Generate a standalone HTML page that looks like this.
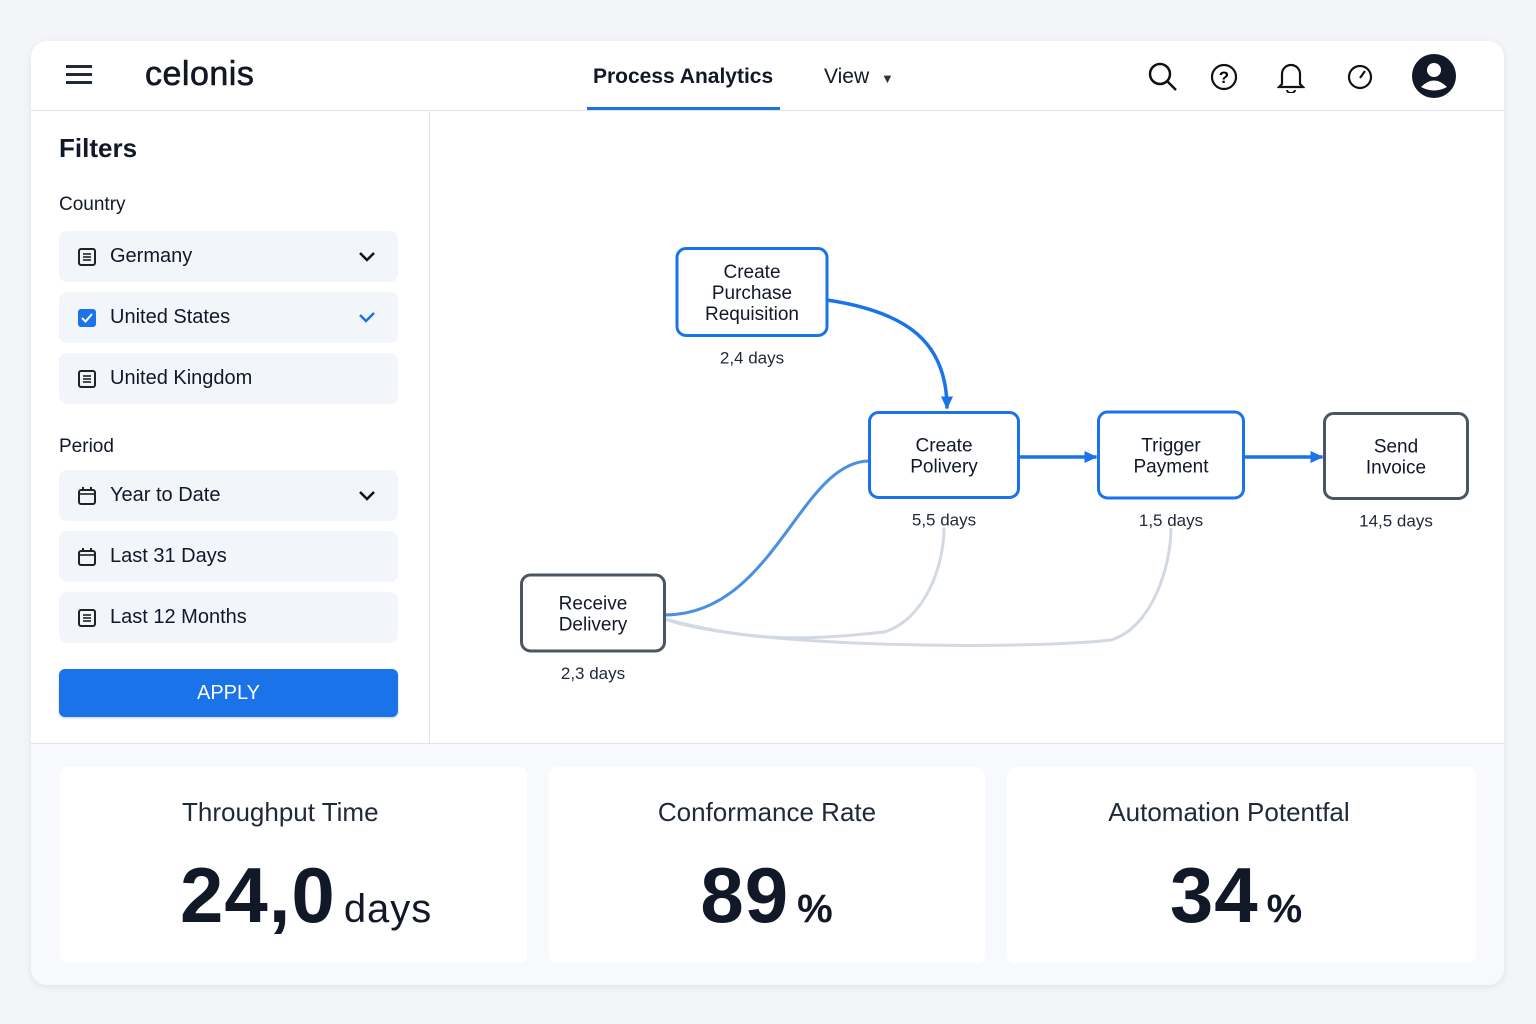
<!DOCTYPE html>
<html><head><meta charset="utf-8"><style>
*{box-sizing:border-box;margin:0;padding:0}
body{width:1536px;height:1024px;background:#f3f5f9;font-family:"Liberation Sans",sans-serif;color:#111827;position:relative;overflow:hidden}
.card{position:absolute;left:31px;top:41px;width:1473px;height:944px;background:#fff;border-radius:16px;box-shadow:0 2px 8px rgba(20,30,60,.08);overflow:hidden}
.abs{position:absolute}
.sel{position:absolute;left:28px;width:339px;height:51px;background:#f2f5f9;border-radius:8px;font-size:20px;display:flex;align-items:center;padding-left:51px}
.sel svg.ic{position:absolute;left:18px;top:16px}
.chev{position:absolute;right:22px;top:18px}
.kpi{position:absolute;top:726px;height:196px;background:#fff;border-radius:8px;text-align:center}
.kpi .t{font-size:26px;margin-top:30px;color:#1f2937}
.kpi .v{font-size:78px;font-weight:bold;margin-top:22px;color:#111827;letter-spacing:1px}
.kpi .v span{font-size:40px;font-weight:normal;margin-left:8px}
.kpi .v span.p{font-weight:bold}
</style></head><body>
<div class="card">
  <div class="abs" style="left:0;top:69px;width:1473px;height:1px;background:#dfe4eb"></div>
  <svg class="abs" style="left:35px;top:22px" width="28" height="24"><rect y="2" width="26" height="3" fill="#1f2937"/><rect y="10" width="26" height="3" fill="#1f2937"/><rect y="18" width="26" height="3" fill="#1f2937"/></svg>
  <div class="abs" style="left:114px;top:14px;font-size:34px;letter-spacing:0.5px;-webkit-text-stroke:0.6px #111">celonis</div>
  <div class="abs" style="left:562px;top:24px;font-size:21px;font-weight:bold">Process Analytics</div>
  <div class="abs" style="left:556px;top:66px;width:193px;height:3px;background:#1a73e8"></div>
  <div class="abs" style="left:793px;top:24px;font-size:21px">View <span style="font-size:13px;margin-left:6px;color:#333">▼</span></div>
  <svg class="abs" style="left:1116px;top:20px" width="32" height="32"><circle cx="13" cy="13" r="10" fill="none" stroke="#111" stroke-width="2.5"/><line x1="20" y1="20" x2="29" y2="29" stroke="#111" stroke-width="2.5"/></svg>
  <svg class="abs" style="left:1178px;top:21px" width="30" height="30"><circle cx="15" cy="15" r="12" fill="none" stroke="#111" stroke-width="2.2"/><text x="15" y="21" text-anchor="middle" font-size="17" font-weight="bold" font-family="Liberation Sans">?</text></svg>
  <svg class="abs" style="left:1246px;top:20px" width="28" height="32"><path d="M5 23 L5 13 A9 9 0 0 1 23 13 L23 23 L26 26 L2 26 Z" fill="none" stroke="#111" stroke-width="2.2"/><path d="M10 29 A4 3 0 0 0 18 29" fill="none" stroke="#111" stroke-width="2"/></svg>
  <svg class="abs" style="left:1315px;top:21px" width="30" height="30"><circle cx="14" cy="15" r="11" fill="none" stroke="#111" stroke-width="2.2"/><line x1="14" y1="16" x2="19" y2="9" stroke="#111" stroke-width="2.2"/></svg>
  <svg class="abs" style="left:1381px;top:13px" width="44" height="44"><circle cx="22" cy="22" r="22" fill="#111827"/><circle cx="22" cy="16" r="7" fill="#fff"/><path d="M9 33 Q22 20 35 33 Q22 40 9 33Z" fill="#fff"/></svg>

  <div class="abs" style="left:398px;top:70px;width:1px;height:632px;background:#dfe4eb"></div>
  <div class="abs" style="left:28px;top:92px;font-size:26px;font-weight:bold">Filters</div>
  <div class="abs" style="left:28px;top:153px;font-size:19px">Country</div>
  <div class="sel" style="top:190px"><svg class="ic" width="20" height="20"><rect x="2" y="2" width="16" height="16" rx="2" fill="none" stroke="#222" stroke-width="2"/><line x1="6" y1="7" x2="14" y2="7" stroke="#222" stroke-width="1.6"/><line x1="6" y1="10" x2="14" y2="10" stroke="#222" stroke-width="1.6"/><line x1="6" y1="13" x2="14" y2="13" stroke="#222" stroke-width="1.6"/></svg>Germany<svg class="chev" width="18" height="14"><path d="M2 4 L9 11 L16 4" fill="none" stroke="#111" stroke-width="2.5"/></svg></div>
  <div class="sel" style="top:251px"><svg class="ic" width="20" height="20"><rect x="1" y="1" width="18" height="18" rx="3" fill="#1a73e8"/><path d="M5 10 L8.5 13.5 L15 6" fill="none" stroke="#fff" stroke-width="2"/></svg>United States<svg class="chev" width="18" height="14"><path d="M2 5 L8 11 L16 3" fill="none" stroke="#1a73e8" stroke-width="2.5"/></svg></div>
  <div class="sel" style="top:312px"><svg class="ic" width="20" height="20"><rect x="2" y="2" width="16" height="16" rx="2" fill="none" stroke="#222" stroke-width="2"/><line x1="6" y1="7" x2="14" y2="7" stroke="#222" stroke-width="1.6"/><line x1="6" y1="10" x2="14" y2="10" stroke="#222" stroke-width="1.6"/><line x1="6" y1="13" x2="14" y2="13" stroke="#222" stroke-width="1.6"/></svg>United Kingdom</div>
  <div class="abs" style="left:28px;top:395px;font-size:19px">Period</div>
  <div class="sel" style="top:429px"><svg class="ic" width="20" height="20"><rect x="2" y="4" width="16" height="14" rx="2" fill="none" stroke="#222" stroke-width="2"/><line x1="2" y1="8" x2="18" y2="8" stroke="#222" stroke-width="1.6"/><line x1="6" y1="1" x2="6" y2="5" stroke="#222" stroke-width="2"/><line x1="14" y1="1" x2="14" y2="5" stroke="#222" stroke-width="2"/></svg>Year to Date<svg class="chev" width="18" height="14"><path d="M2 4 L9 11 L16 4" fill="none" stroke="#111" stroke-width="2.5"/></svg></div>
  <div class="sel" style="top:490px"><svg class="ic" width="20" height="20"><rect x="2" y="4" width="16" height="14" rx="2" fill="none" stroke="#222" stroke-width="2"/><line x1="2" y1="8" x2="18" y2="8" stroke="#222" stroke-width="1.6"/><line x1="6" y1="1" x2="6" y2="5" stroke="#222" stroke-width="2"/><line x1="14" y1="1" x2="14" y2="5" stroke="#222" stroke-width="2"/></svg>Last 31 Days</div>
  <div class="sel" style="top:551px"><svg class="ic" width="20" height="20"><rect x="2" y="2" width="16" height="16" rx="2" fill="none" stroke="#222" stroke-width="2"/><line x1="6" y1="7" x2="14" y2="7" stroke="#222" stroke-width="1.6"/><line x1="6" y1="10" x2="14" y2="10" stroke="#222" stroke-width="1.6"/><line x1="6" y1="13" x2="14" y2="13" stroke="#222" stroke-width="1.6"/></svg>Last 12 Months</div>
  <div class="abs" style="left:28px;top:628px;width:339px;height:48px;background:#1a73e8;border-radius:6px;color:#fff;font-size:20px;text-align:center;line-height:48px;box-shadow:0 1px 2px rgba(0,0,0,.2)">APPLY</div>

  <div class="abs" style="left:0;top:702px;width:1473px;height:1px;background:#dfe4eb"></div>
  <div class="abs" style="left:0;top:703px;width:1473px;height:241px;background:#f7f9fc"></div>
  <div class="kpi" style="left:29px;width:467px;text-align:left"><div class="t" style="margin-left:122px">Throughput Time</div><div class="v" style="margin-left:120px">24,0<span>days</span></div></div>
  <div class="kpi" style="left:518px;width:436px"><div class="t">Conformance Rate</div><div class="v">89<span class="p">%</span></div></div>
  <div class="kpi" style="left:976px;width:469px"><div class="t" style="margin-left:-25px">Automation Potentfal</div><div class="v" style="margin-left:-10px">34<span class="p">%</span></div></div>
</div>
<svg id="g" class="abs" style="left:0;top:0" width="1536" height="1024"></svg>
<script>
const nodeNames=["Create|Purchase|Requisition","Create|Polivery","Trigger|Payment","Send|Invoice","Receive|Delivery"];
const nodeDays=["2,4 days","5,5 days","1,5 days","14,5 days","2,3 days"];
const nodeX=[752,944,1171,1396,593];
const nodeY=[292,455,455,456,613];
const nodeW=[150,149,145,143,143];
const nodeH=[87,85,86,85,76];
const nodeColor=["#1a73e8","#1a73e8","#1a73e8","#4b5563","#4b5563"];
const edgeFrom=[0,1,2,4,4,4];
const edgeTo=[1,2,3,1,1,2];
const edgeType=["main","main","main","blue","grey","grey"];
const NS="http://www.w3.org/2000/svg";
const g=document.getElementById('g');
function mk(t,a){const e=document.createElementNS(NS,t);for(const k in a)e.setAttribute(k,a[k]);return e;}
const defs=mk('defs',{});
const m=mk('marker',{id:'ar',markerWidth:14,markerHeight:14,refX:12,refY:7,orient:'auto',markerUnits:'userSpaceOnUse'});
m.appendChild(mk('path',{d:'M0,1 L13,7 L0,13 Z',fill:'#1a73e8'}));defs.appendChild(m);g.appendChild(defs);
edgeFrom.forEach((f,i)=>{const t=edgeTo[i];let d,st,w,mark=false;
 const fr=nodeX[f]+nodeW[f]/2, fy=nodeY[f];
 if(edgeType[i]==="main"){
  if(nodeY[f]<nodeY[t]-50){const tx=nodeX[t]+3,ty=nodeY[t]-nodeH[t]/2-4;d=`M${fr},${fy+8} C${fr+80},${fy+20} ${tx},${fy+50} ${tx},${ty}`;}
  else{d=`M${fr},${fy+2} L${nodeX[t]-nodeW[t]/2-2},${fy+2}`;}
  st="#1a73e8";w=3.5;mark=true;
 }else if(edgeType[i]==="blue"){
  const tx=nodeX[t]-nodeW[t]/2,ty=nodeY[t]+6;d=`M${fr},${fy+2} C${fr+110},${fy+2} ${tx-70},${ty} ${tx},${ty}`;st="#4a90e2";w=3;
 }else{
  const tx=nodeX[t],ty=nodeY[t]+nodeH[t]/2+30;const low=(t===1)?640:648;
  d=`M${fr},${fy+6} C${fr+80},${low} ${tx-150},${low+2} ${tx-60},${low-8} C${tx-20},${low-20} ${tx},${ty+40} ${tx},${ty}`;st="#d3d9e2";w=3;
 }
 const p=mk('path',{d:d,fill:'none',stroke:st,'stroke-width':w});
 if(mark)p.setAttribute('marker-end','url(#ar)');
 
 
 g.appendChild(p);
});
nodeNames.forEach((n,i)=>{
 const r=mk('rect',{x:nodeX[i]-nodeW[i]/2,y:nodeY[i]-nodeH[i]/2,width:nodeW[i],height:nodeH[i],rx:9,fill:'#fff',stroke:nodeColor[i],'stroke-width':3});
 
 
 g.appendChild(r);
 const lines=n.split('|');const lh=21;const y0=nodeY[i]-(lines.length-1)*lh/2+7;
 lines.forEach((l,j)=>{const t=mk('text',{x:nodeX[i],y:y0+j*lh,'text-anchor':'middle','font-size':19,'font-family':'Liberation Sans',fill:'#111827'});t.textContent=l;
  
  
  g.appendChild(t);});
 const dt=mk('text',{x:nodeX[i],y:nodeY[i]+nodeH[i]/2+28,'text-anchor':'middle','font-size':17,'font-family':'Liberation Sans',fill:'#1f2937'});dt.textContent=nodeDays[i];
 
 
 g.appendChild(dt);
});
</script>
</body></html>
